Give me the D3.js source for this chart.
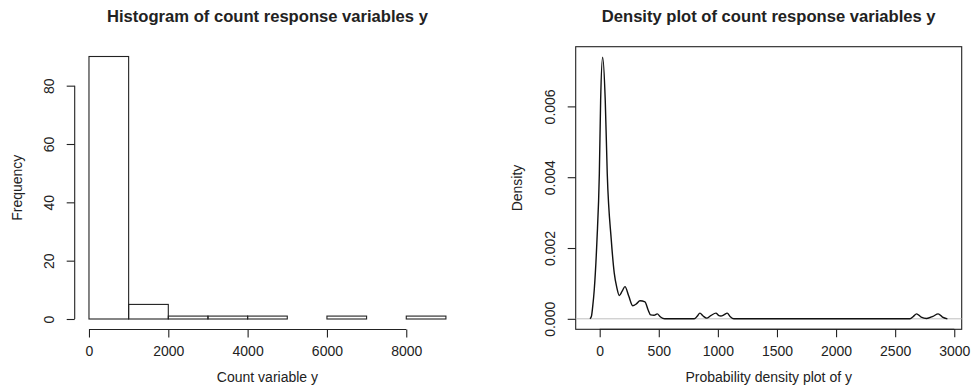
<!DOCTYPE html>
<html>
<head>
<meta charset="utf-8">
<script src="https://cdn.jsdelivr.net/npm/d3@7"></script>
<style>
  body { margin: 0; background: #fff; }
  text { font-family: "Liberation Sans", Arial, Helvetica, sans-serif; fill: #222; }
</style>
</head>
<body>
<div id="chart-area"></div>
<script>
const WIDTH = 971
const HEIGHT = 387

// histogram data (bins of width 1000)
const binStarts = [0, 1000, 2000, 3000, 4000, 5000, 6000, 7000, 8000]
const binWidth = 1000
const binCounts = [90, 5, 1, 1, 1, 0, 1, 0, 1]
const histXTicks = [0, 2000, 4000, 6000, 8000]
const histYTicks = [0, 20, 40, 60, 80]

// density curve
const densX = [-82, -69, -59, -46, -23, -3, 8, 25, 47, 64, 98, 123, 145, 166, 190, 214, 245, 279, 310, 341, 383, 410, 431, 460, 487, 515, 550,
  800, 825, 848, 875, 905, 940, 984, 1005, 1026, 1050, 1079, 1105, 1135,
  2625, 2655, 2681, 2720, 2766, 2820, 2864, 2900, 2942]
const densY = [0, 0.000085, 0.00035, 0.00082, 0.00223, 0.0041, 0.00617, 0.00739, 0.00617, 0.0041, 0.00223, 0.0013, 0.00088, 0.00066, 0.00078, 0.00091, 0.00065, 0.00037, 0.00042, 0.00051, 0.00048, 0.00025, 0.00011, 0.0001, 0.00014, 0.00005, 0,
  0, 0.00007, 0.00016, 0.00008, 0.00002, 0.00009, 0.00016, 0.0001, 0.00008, 0.00011, 0.00016, 0.00006, 0,
  0, 0.00007, 0.00014, 0.00005, 0.00001, 0.00007, 0.00014, 0.00005, 0]
const densXTicks = [0, 500, 1000, 1500, 2000, 2500, 3000]
const densYTicks = [0, 0.002, 0.004, 0.006]

const svg = d3.select("#chart-area").append("svg")
  .attr("width", WIDTH)
  .attr("height", HEIGHT)

const INK = "#222"
const TICK = 8

// ---------- left: histogram ----------
const hx = d3.scaleLinear().domain([-360, 9360]).range([74.7, 460.2])
const hy = d3.scaleLinear().domain([-3.6, 93.6]).range([329.5, 46])

const left = svg.append("g")

left.selectAll("rect.bar")
  .data(binStarts)
  .enter().append("rect")
    .attr("class", "bar")
    .attr("x", d => hx(d))
    .attr("width", d => hx(d + binWidth) - hx(d))
    .attr("y", (d, i) => hy(binCounts[i]))
    .attr("height", (d, i) => hy(0) - hy(binCounts[i]))
    .attr("fill", "none")
    .attr("stroke", INK)
    .attr("stroke-width", 1.1)

// y axis
const hyAxis = d3.axisLeft(hy).tickValues(histYTicks).tickSize(TICK).tickPadding(0).tickFormat(d3.format("d"))
const hyG = left.append("g")
  .attr("transform", `translate(${hx.range()[0]},0)`)
  .call(hyAxis)
hyG.select(".domain").attr("d", `M0,${hy(0)}V${hy(80)}`)
hyG.selectAll(".tick text")
  .attr("transform", "rotate(-90)")
  .attr("x", 0).attr("y", -26).attr("dy", "0.35em")
  .attr("text-anchor", "middle")

// x axis
const hxAxis = d3.axisBottom(hx).tickValues(histXTicks).tickSize(TICK).tickPadding(0).tickFormat(d3.format("d"))
const hxG = left.append("g")
  .attr("transform", `translate(0,${hy.range()[0]})`)
  .call(hxAxis)
hxG.select(".domain").attr("d", `M${hx(0)},0H${hx(8000)}`)
hxG.selectAll(".tick text").attr("y", 22).attr("dy", "0.35em")

left.append("text")
  .attr("x", (hx.range()[0] + hx.range()[1]) / 2)
  .attr("y", 22)
  .attr("text-anchor", "middle")
  .attr("font-size", "16.6px")
  .attr("font-weight", "bold")
  .text("Histogram of count response variables y")
left.append("text")
  .attr("x", (hx.range()[0] + hx.range()[1]) / 2)
  .attr("y", 378).attr("dy", "0.3em")
  .attr("text-anchor", "middle")
  .attr("font-size", "14px")
  .text("Count variable y")
left.append("text")
  .attr("transform", `translate(16.7,${(hy.range()[0] + hy.range()[1]) / 2}) rotate(-90)`)
  .attr("dy", "0.35em")
  .attr("text-anchor", "middle")
  .attr("font-size", "14px")
  .text("Frequency")

// ---------- right: density ----------
const dx = d3.scaleLinear().domain([-203, 3063]).range([575.7, 961.7])
const dy = d3.scaleLinear().domain([-0.000296, 0.007686]).range([329.3, 46.7])

const right = svg.append("g")

right.append("rect")
  .attr("x", dx.range()[0]).attr("y", dy.range()[1])
  .attr("width", dx.range()[1] - dx.range()[0])
  .attr("height", dy.range()[0] - dy.range()[1])
  .attr("fill", "none")
  .attr("stroke", INK)
  .attr("stroke-width", 1.1)

right.append("line")
  .attr("x1", dx.range()[0]).attr("x2", dx.range()[1])
  .attr("y1", dy(0)).attr("y2", dy(0))
  .attr("stroke", "#bebebe")
  .attr("stroke-width", 1)

const densLine = d3.line()
  .x((d, i) => dx(densX[i]))
  .y(d => dy(d))
  .curve(d3.curveMonotoneX)

right.append("path")
  .datum(densY)
  .attr("d", densLine)
  .attr("fill", "none")
  .attr("stroke", "#111")
  .attr("stroke-width", 1.4)

const dyAxis = d3.axisLeft(dy).tickValues(densYTicks).tickSize(TICK).tickPadding(0).tickFormat(d3.format(".3f"))
const dyG = right.append("g")
  .attr("transform", `translate(${dx.range()[0]},0)`)
  .call(dyAxis)
dyG.select(".domain").remove()
dyG.selectAll(".tick text")
  .attr("transform", "rotate(-90)")
  .attr("x", 0).attr("y", -26).attr("dy", "0.35em")
  .attr("text-anchor", "middle")

const dxAxis = d3.axisBottom(dx).tickValues(densXTicks).tickSize(TICK).tickPadding(0).tickFormat(d3.format("d"))
const dxG = right.append("g")
  .attr("transform", `translate(0,${dy.range()[0]})`)
  .call(dxAxis)
dxG.select(".domain").attr("d", `M${dx(0)},0H${dx(3000)}`)
dxG.selectAll(".tick text").attr("y", 22).attr("dy", "0.35em")

right.append("text")
  .attr("x", (dx.range()[0] + dx.range()[1]) / 2)
  .attr("y", 22)
  .attr("text-anchor", "middle")
  .attr("font-size", "16.6px")
  .attr("font-weight", "bold")
  .text("Density plot of count response variables y")
right.append("text")
  .attr("x", (dx.range()[0] + dx.range()[1]) / 2)
  .attr("y", 378).attr("dy", "0.3em")
  .attr("text-anchor", "middle")
  .attr("font-size", "14px")
  .text("Probability density plot of y")
right.append("text")
  .attr("transform", `translate(516.7,${(dy.range()[0] + dy.range()[1]) / 2}) rotate(-90)`)
  .attr("dy", "0.35em")
  .attr("text-anchor", "middle")
  .attr("font-size", "14px")
  .text("Density")

// axis styling
svg.selectAll(".tick line").attr("stroke", INK).attr("stroke-width", 1.1)
svg.selectAll(".domain").attr("stroke", INK).attr("stroke-width", 1.1)
svg.selectAll(".tick text")
  .attr("font-size", "14px")
  .attr("font-family", "'Liberation Sans', Arial, Helvetica, sans-serif")
  .attr("fill", INK)
</script>
</body>
</html>
